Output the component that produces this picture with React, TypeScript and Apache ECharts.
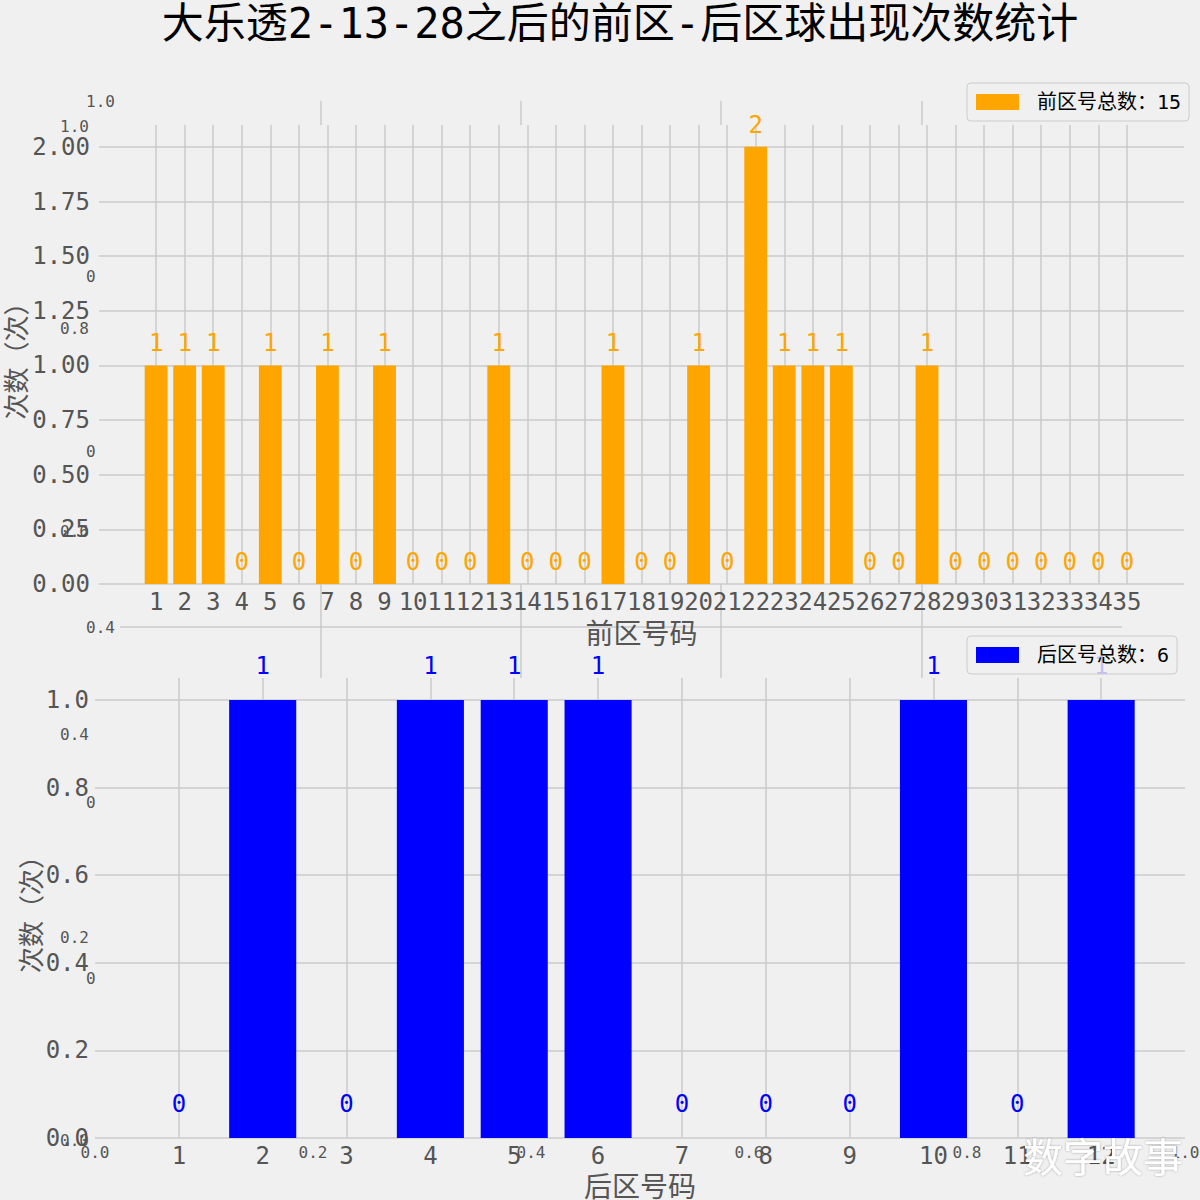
import React, { useEffect, useRef } from 'react';
import * as echarts from 'echarts';

const TITLE = '大乐透2-13-28之后的前区-后区球出现次数统计';
const WATERMARK = '数字故事';
const Y_NAME = '次数（次）';
const FRONT_X_NAME = '前区号码';
const BACK_X_NAME = '后区号码';
const FRONT_LEGEND_PREFIX = '前区号总数：';
const BACK_LEGEND_PREFIX = '后区号总数：';

const FRONT_NUMBERS = ['1', '2', '3', '4', '5', '6', '7', '8', '9', '10', '11', '12', '13', '14', '15', '16', '17', '18', '19', '20', '21', '22', '23', '24', '25', '26', '27', '28', '29', '30', '31', '32', '33', '34', '35'];
const FRONT_COUNTS = [1, 1, 1, 0, 1, 0, 1, 0, 1, 0, 0, 0, 1, 0, 0, 0, 1, 0, 0, 1, 0, 2, 1, 1, 1, 0, 0, 1, 0, 0, 0, 0, 0, 0, 0];
const BACK_NUMBERS = ['1', '2', '3', '4', '5', '6', '7', '8', '9', '10', '11', '12'];
const BACK_COUNTS = [0, 1, 0, 1, 1, 1, 0, 0, 0, 1, 0, 1];

const MONO = "'DejaVu Sans Mono', 'Noto Sans CJK SC', sans-serif";
const CJK = "'Noto Sans CJK SC', 'DejaVu Sans', sans-serif";
const TICK_COLOR = '#555555';
const GRID_COLOR = '#cbcbcb';
const BG = '#f0f0f0';

export default function App() {
  const ref = useRef<HTMLDivElement>(null);

  useEffect(() => {
    if (!ref.current) return;
    const chart = echarts.init(ref.current, undefined, { renderer: 'svg' });

    const frontPad = 2;
    const backPad = 1;
    const frontAxis = [
      ...Array.from({ length: frontPad }, (_, i) => `pl${i}`),
      ...FRONT_NUMBERS,
      ...Array.from({ length: frontPad }, (_, i) => `pr${i}`),
    ];
    const frontData = [
      ...Array(frontPad).fill(null),
      ...FRONT_COUNTS,
      ...Array(frontPad).fill(null),
    ];
    const backAxis = [
      ...Array.from({ length: backPad }, (_, i) => `pl${i}`),
      ...BACK_NUMBERS,
      ...Array.from({ length: backPad }, (_, i) => `pr${i}`),
    ];
    const backData = [
      ...Array(backPad).fill(null),
      ...BACK_COUNTS,
      ...Array(backPad).fill(null),
    ];
    const frontTotal = FRONT_COUNTS.reduce((a, b) => a + b, 0);
    const backTotal = BACK_COUNTS.reduce((a, b) => a + b, 0);
    const frontName = `${FRONT_LEGEND_PREFIX}${frontTotal}`;
    const backName = `${BACK_LEGEND_PREFIX}${backTotal}`;

    const frontShown = (i: number) => i >= frontPad && i < frontPad + FRONT_NUMBERS.length;
    const backShown = (i: number) => i >= backPad && i < backPad + BACK_NUMBERS.length;

    const smallLabel = { fontSize: 16, color: TICK_COLOR, fontFamily: MONO };
    const bigLabel = { fontSize: 24, color: TICK_COLOR, fontFamily: MONO };
    const gridLine = { color: GRID_COLOR, width: 1.5 };

    const legendCommon = {
      left: 967,
      icon: 'rect',
      itemWidth: 43,
      itemHeight: 16,
      padding: [9, 8, 9, 9],
      backgroundColor: 'rgba(240,240,240,0.8)',
      borderColor: '#cccccc',
      borderWidth: 1,
      borderRadius: 4,
      selectedMode: false,
      textStyle: { fontSize: 20, color: '#000000', fontFamily: MONO, padding: [0, 0, 0, 13] },
      z: 4,
    };

    const gridBase = { containLabel: false, outerBoundsMode: 'none' };

    chart.setOption({
      animation: false,
      backgroundColor: BG,
      legend: [
        { ...legendCommon, top: 83, data: [frontName] },
        { ...legendCommon, top: 636, data: [backName] },
      ],
      grid: [
        { ...gridBase, left: 95, top: 126, width: 1090, height: 1014, show: false, z: 0 },
        { ...gridBase, left: 120, top: 101, width: 1002, height: 877, show: false, z: 0 },
        { ...gridBase, left: 99, top: 125, width: 1085, height: 459, show: true, backgroundColor: BG, borderWidth: 0, z: 1 },
        { ...gridBase, left: 95, top: 678, width: 1090, height: 460, show: true, backgroundColor: BG, borderWidth: 0, z: 1 },
      ],
      xAxis: [
        {
          type: 'value', gridIndex: 0, min: 0, max: 1, interval: 0.2, z: 0,
          axisLine: { show: false }, axisTick: { show: false }, splitLine: { show: false },
          axisLabel: { ...smallLabel, margin: 4, formatter: (v: number) => v.toFixed(1) },
        },
        {
          type: 'value', gridIndex: 1, min: 0, max: 1, interval: 0.2, z: 0,
          axisLine: { show: false }, axisTick: { show: false }, axisLabel: { show: false },
          splitLine: { show: true, showMinLine: false, showMaxLine: false, lineStyle: gridLine },
        },
        {
          type: 'category', gridIndex: 2, data: frontAxis, boundaryGap: false, z: 2,
          axisLine: { show: false }, axisTick: { show: false },
          axisLabel: {
            ...bigLabel, margin: 6, interval: 0,
            formatter: (value: string, index: number) => (frontShown(index) ? value : ''),
          },
          splitLine: { show: true, interval: (i: number) => frontShown(i), lineStyle: gridLine },
          name: FRONT_X_NAME, nameLocation: 'middle', nameGap: 34,
          nameTextStyle: { fontSize: 28, color: TICK_COLOR, fontFamily: CJK },
        },
        {
          type: 'category', gridIndex: 3, data: backAxis, boundaryGap: false, z: 2,
          axisLine: { show: false }, axisTick: { show: false },
          axisLabel: {
            ...bigLabel, margin: 6, interval: 0,
            formatter: (value: string, index: number) => (backShown(index) ? value : ''),
          },
          splitLine: { show: true, interval: (i: number) => backShown(i), lineStyle: gridLine },
          name: BACK_X_NAME, nameLocation: 'middle', nameGap: 33,
          nameTextStyle: { fontSize: 28, color: TICK_COLOR, fontFamily: CJK },
        },
      ],
      yAxis: [
        {
          type: 'value', gridIndex: 0, min: 0, max: 1, interval: 0.2, z: 0,
          axisLine: { show: false }, axisTick: { show: false }, splitLine: { show: false },
          axisLabel: { ...smallLabel, margin: 6, formatter: (v: number) => v.toFixed(1) },
        },
        {
          type: 'value', gridIndex: 1, min: 0, max: 1, interval: 0.2, z: 0,
          axisLine: { show: false }, axisTick: { show: false },
          axisLabel: { ...smallLabel, margin: 5, formatter: (v: number) => v.toFixed(1) },
          splitLine: { show: true, showMinLine: false, showMaxLine: false, lineStyle: gridLine },
        },
        {
          type: 'value', gridIndex: 2, min: 0, max: 2.1, interval: 0.25, z: 2,
          axisLine: { show: false }, axisTick: { show: false },
          axisLabel: { ...bigLabel, margin: 9, formatter: (v: number) => (v > 2.001 ? '' : v.toFixed(2)) },
          splitLine: { show: true, showMaxLine: false, lineStyle: gridLine },
          name: Y_NAME, nameLocation: 'middle', nameGap: 72, nameRotate: 90, nameMoveOverlap: false,
          nameTextStyle: { fontSize: 26, color: TICK_COLOR, fontFamily: CJK },
        },
        {
          type: 'value', gridIndex: 3, min: 0, max: 1.05, interval: 0.2, z: 2,
          axisLine: { show: false }, axisTick: { show: false },
          axisLabel: { ...bigLabel, margin: 6, formatter: (v: number) => (v > 1.001 ? '' : v.toFixed(1)) },
          splitLine: { show: true, showMaxLine: false, lineStyle: gridLine },
          name: Y_NAME, nameLocation: 'middle', nameGap: 53, nameRotate: 90, nameMoveOverlap: false,
          nameTextStyle: { fontSize: 26, color: TICK_COLOR, fontFamily: CJK },
        },
      ],
      series: [
        {
          type: 'bar', name: frontName, xAxisIndex: 2, yAxisIndex: 2, data: frontData,
          barWidth: '80%', z: 3,
          itemStyle: { color: '#FFA500' },
          label: { show: true, position: 'top', distance: 10, color: '#FFA500', fontSize: 24, fontFamily: MONO, formatter: '{c}' },
        },
        {
          type: 'bar', name: backName, xAxisIndex: 3, yAxisIndex: 3, data: backData,
          barWidth: '80%', z: 3,
          itemStyle: { color: '#0000FF' },
          label: { show: true, position: 'top', distance: 22, color: '#0000FF', fontSize: 24, fontFamily: MONO, formatter: '{c}' },
        },
      ],
      graphic: [
        {
          type: 'text', x: 620, y: 23, z: 100,
          style: { text: TITLE, fill: '#000000', fontSize: 42, fontFamily: MONO, align: 'center', verticalAlign: 'middle' },
        },
        {
          type: 'text', x: 1103, y: 1155, z: 100,
          style: {
            text: WATERMARK, fill: '#ffffff', fontSize: 40, fontFamily: CJK, align: 'center', verticalAlign: 'middle',
            textShadowColor: 'rgba(0,0,0,0.35)', textShadowBlur: 2,
          },
        },
      ],
    });

    return () => chart.dispose();
  }, []);

  return (
    <div
      ref={ref}
      style={{ position: 'absolute', left: 0, top: 0, width: 1200, height: 1200, background: BG }}
    />
  );
}
